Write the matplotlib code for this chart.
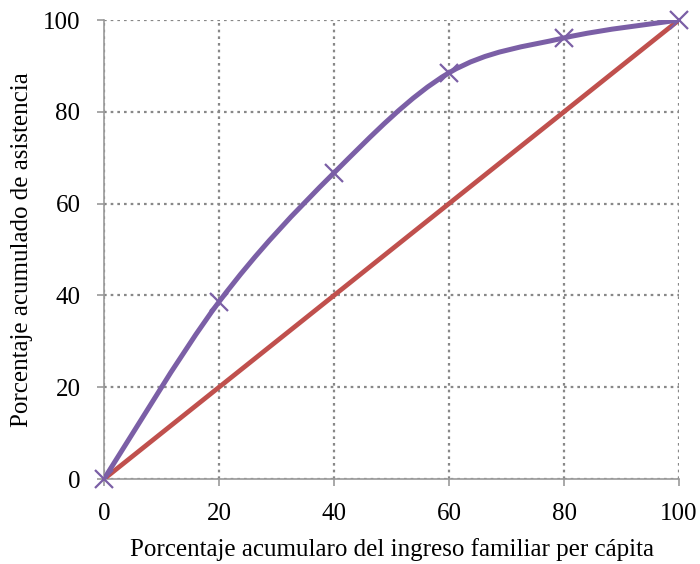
import matplotlib.pyplot as plt
from matplotlib.path import Path
from matplotlib.patches import PathPatch

# datos
ingreso = [0, 20, 40, 60, 80, 100]
asistencia = [0, 38.6, 66.7, 88.5, 96.1, 100]
igualdad_x = [0, 100]
igualdad_y = [0, 100]

plt.rcParams['font.family'] = ['Liberation Serif', 'DejaVu Serif']

morado = '#7B5FA6'
rojo = '#C0504D'


def curva_suave(xs, ys):
    # bezier como la linea suavizada de Excel
    verts = [(xs[0], ys[0])]
    codes = [Path.MOVETO]
    n = len(xs)
    for i in range(n - 1):
        x0, y0 = (xs[i - 1], ys[i - 1]) if i > 0 else (xs[i], ys[i])
        x3, y3 = (xs[i + 2], ys[i + 2]) if i + 2 < n else (xs[i + 1], ys[i + 1])
        c1 = (xs[i] + (xs[i + 1] - x0) / 6, ys[i] + (ys[i + 1] - y0) / 6)
        c2 = (xs[i + 1] - (x3 - xs[i]) / 6, ys[i + 1] - (y3 - ys[i]) / 6)
        verts += [c1, c2, (xs[i + 1], ys[i + 1])]
        codes += [Path.CURVE4] * 3
    return Path(verts, codes)


fig = plt.figure(figsize=(7, 5.64), dpi=100)
ax = fig.add_axes([0.1486, 0.1507, 0.8214, 0.8138])

ax.plot(igualdad_x, igualdad_y, color=rojo, lw=3.4, solid_capstyle='butt', zorder=3)
ax.add_patch(PathPatch(curva_suave(ingreso, asistencia), fill=False,
                       edgecolor=morado, lw=3.6, zorder=4))
ax.plot(ingreso, asistencia, ls='none', marker='x', ms=13, mew=1.6,
        color=morado, zorder=5, clip_on=False)

ax.set_xlim(0, 100)
ax.set_ylim(0, 100)
ax.set_xticks(range(0, 101, 20))
ax.set_yticks(range(0, 101, 20))
ax.grid(True, ls=(0, (1.2, 1.8)), color='#888888', lw=1.6)
ax.set_axisbelow(True)

for s in ['top', 'right']:
    ax.spines[s].set_visible(False)
for s in ['left', 'bottom']:
    ax.spines[s].set_color('#999999')
    ax.spines[s].set_linewidth(1.2)

ax.tick_params(direction='out', length=5, color='#999999', width=1.2,
               labelsize=18)
ax.tick_params(axis='y', pad=12)
ax.tick_params(axis='x', pad=12)
ax.set_xlabel('Porcentaje acumularo del ingreso familiar per cápita', fontsize=18, labelpad=10)
ax.set_ylabel('Porcentaje acumulado de asistencia', fontsize=18, labelpad=7)

fig.savefig('out.png', dpi=100)
